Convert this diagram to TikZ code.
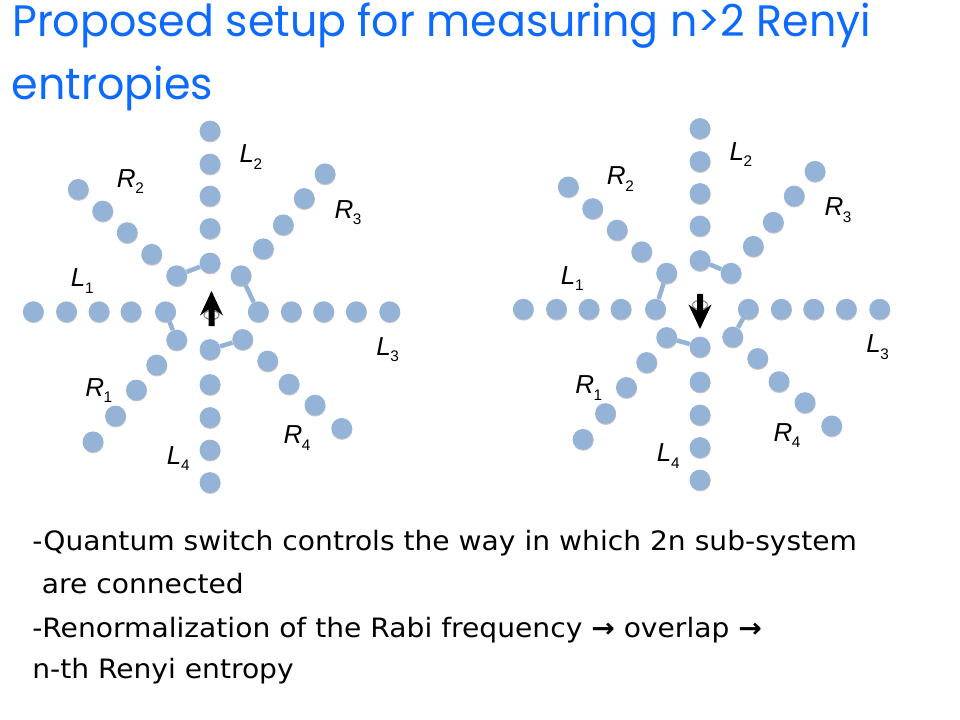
\documentclass[tikz,border=0pt]{standalone}
\usepackage{fontspec}
\setmainfont{DejaVu Sans}[FakeStretch=1.055]
\newfontfamily\titlefont{Poppins}[FakeStretch=0.972]
\newfontfamily\labfont{Liberation Sans}
\usetikzlibrary{shadows}
\definecolor{dotblue}{RGB}{149,179,215}
\definecolor{titleblue}{RGB}{13,106,255}
\tikzset{
  dot/.style={circle, fill=dotblue, minimum size=15.6pt, inner sep=0pt, draw=none,
    drop shadow={shadow xshift=0.2pt, shadow yshift=-0.8pt, opacity=0.22, fill=black}},
  bond/.style={draw=dotblue, line width=3.4pt},
  lab/.style={anchor=base west, inner sep=0pt, font=\labfont\itshape\fontsize{19.5}{19.5}\selectfont},
  bodytext/.style={anchor=base west, inner sep=0pt, font=\fontsize{20}{24}\selectfont},
  ttl/.style={anchor=base west, inner sep=0pt, text=titleblue, font=\titlefont\fontsize{33}{40}\selectfont},
  spinhead/.style={fill=black},
  spinring/.style={draw=black!45, line width=0.9pt},
}
\newcommand\lsub[2]{#1\kern-0.3pt\raisebox{-5pt}{\upshape\fontsize{11.5}{11.5}\selectfont #2}}
\newcommand\rarr{{\bfseries →}}
\newcommand\drawstar[1]{%
  \foreach \n/\x/\y in {
      L2-1/210/131, L2-2/210/164, L2-3/210/196, L2-4/210/228.5, L2-5/210/263,
      L4-1/210/482.5, L4-2/210/450, L4-3/210/417.5, L4-4/210/384.5, L4-5/210/349.5,
      L1-1/33.3/311.7, L1-2/66.5/311.7, L1-3/99/311.7, L1-4/131/311.7, L1-5/165.5/311.7,
      L3-1/389.7/311.7, L3-2/356.3/311.7, L3-3/323.7/311.7, L3-4/291.3/311.7, L3-5/258.3/311.7,
      R2-1/78.3/189.4, R2-2/102.7/211.1, R2-3/127.2/232.6, R2-4/151.7/254.3, R2-5/176.7/275.7,
      R3-1/325/173.8, R3-2/304.2/198.5, R3-3/283.3/224.8, R3-4/263.3/248.8, R3-5/241/275.7,
      R1-1/93/441.8, R1-2/115.5/416, R1-3/136.4/390, R1-4/156.7/365, R1-5/176.7/340,
      R4-1/341.7/428.4, R4-2/315/405.1, R4-3/289/384.1, R4-4/267.7/361, R4-5/242.7/339.5}
    {\node[dot] (#1\n) at (\x,\y) {};}
  \node[lab] (#1lL2) at (239.3,162.7) {\lsub{L}{2}};
  \node[lab] (#1lR2) at (116.7,187.3) {\lsub{R}{2}};
  \node[lab] (#1lR3) at (334.3,218.3) {\lsub{R}{3}};
  \node[lab] (#1lL1) at (70.7,286.7) {\lsub{L}{1}};
  \node[lab] (#1lL3) at (376,355) {\lsub{L}{3}};
  \node[lab] (#1lR1) at (85,396) {\lsub{R}{1}};
  \node[lab] (#1lL4) at (166.7,464) {\lsub{L}{4}};
  \node[lab] (#1lR4) at (283.3,443.5) {\lsub{R}{4}};
}
\newcommand\spinarrow{%
  \draw[spinring] (0,6) ellipse (7.5 and 4.5);
  \fill[spinhead] (0,-18) -- (11.5,6.5) -- (3,0.5) -- (3,17) -- (-3,17) -- (-3,0.5) -- (-11.5,6.5) -- cycle;
}
\begin{document}
\begin{tikzpicture}[x=0.75pt, y=-0.75pt]
  \fill[white] (0,0) rectangle (960,720);
  \useasboundingbox (0,0) rectangle (960,720);
  % title
  \node[ttl] (t1) at (12,37) {Proposed setup for measuring n>2 Renyi};
  \node[ttl] (t2) at (11.7,100) {entropies};
  % left diagram
  \drawstar{p}
  \draw[bond] (pL2-5) -- (pR2-5);
  \draw[bond] (pR3-5) -- (pL3-5);
  \draw[bond] (pL1-5) -- (pR1-5);
  \draw[bond] (pL4-5) -- (pR4-5);
  \begin{scope}[shift={(211.5,309)}]
    \spinarrow
  \end{scope}
  % right diagram
  \begin{scope}[shift={(490,-2.5)}]
    \drawstar{q}
    \draw[bond] (qR2-5) -- (qL1-5);
    \draw[bond] (qL2-5) -- (qR3-5);
    \draw[bond] (qR4-5) -- (qL3-5);
    \draw[bond] (qR1-5) -- (qL4-5);
    \begin{scope}[shift={(210,313.5)}, rotate=180]
      \spinarrow
    \end{scope}
  \end{scope}
  % body text
  \node[bodytext] (b1) at (32,550) {-Quantum switch controls the way in which 2n sub-system};
  \node[bodytext] (b2) at (41.7,593) {are connected};
  \node[bodytext] (b3) at (32,637) {-Renormalization of the Rabi frequency \rarr{} overlap \rarr};
  \node[bodytext] (b4) at (32,678) {n-th Renyi entropy};
\end{tikzpicture}
\end{document}
